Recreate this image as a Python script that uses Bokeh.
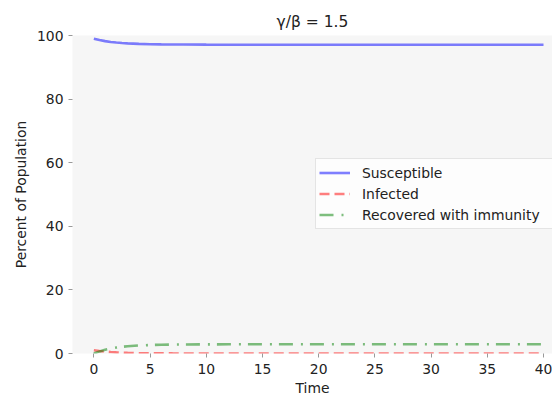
from bokeh.plotting import figure
from bokeh.models import Range1d, Legend, LegendItem, FixedTicker
from bokeh.embed import file_html
from bokeh.resources import INLINE

# Data (percent of population vs time)
time = [0, 0.5, 1, 1.5, 2, 2.5, 3, 4, 5, 6, 7, 8, 10, 12, 15, 20, 25, 30, 35, 40]
susceptible = [99.0, 98.57, 98.23, 97.98, 97.79, 97.64, 97.52, 97.36, 97.26, 97.20,
               97.17, 97.15, 97.12, 97.11, 97.10, 97.10, 97.10, 97.10, 97.10, 97.10]
infected = [1.00, 0.77, 0.60, 0.46, 0.35, 0.27, 0.21, 0.12, 0.07, 0.04,
            0.025, 0.015, 0.005, 0.002, 0.0, 0.0, 0.0, 0.0, 0.0, 0.0]
recovered = [0.0, 0.66, 1.17, 1.56, 1.86, 2.09, 2.27, 2.52, 2.67, 2.76,
             2.81, 2.84, 2.88, 2.89, 2.90, 2.90, 2.90, 2.90, 2.90, 2.90]
x_ticks = [0, 5, 10, 15, 20, 25, 30, 35, 40]
y_ticks = [0, 20, 40, 60, 80, 100]
title_text = "γ/β = 1.5"

FONT = "DejaVu Sans"

p = figure(width=552, height=398, output_backend="svg", toolbar_location=None,
           x_range=Range1d(-1.9, 40.8), y_range=Range1d(0, 100),
           min_border_left=72, min_border_right=0, min_border_top=35, min_border_bottom=44,
           title=title_text)
p.background_fill_color = "#f6f6f6"
p.border_fill_color = "white"
p.outline_line_color = None
p.xgrid.visible = False
p.ygrid.visible = False

p.title.align = "center"
p.title.offset = 5
p.title.text_font = FONT
p.title.text_font_size = "15.5px"
p.title.text_font_style = "normal"
p.title.text_color = "#222222"

for ax in (p.xaxis[0], p.yaxis[0]):
    ax.axis_line_color = None
    ax.major_tick_line_color = "#999999"
    ax.major_tick_out = 4
    ax.major_tick_in = 0
    ax.minor_tick_line_color = None
    ax.major_label_text_font = FONT
    ax.major_label_text_font_size = "13.9px"
    ax.major_label_text_color = "#222222"
    ax.axis_label_text_font = FONT
    ax.axis_label_text_font_size = "13.9px"
    ax.axis_label_text_font_style = "normal"
    ax.axis_label_text_color = "#222222"

p.xaxis.ticker = FixedTicker(ticks=x_ticks)
p.yaxis.ticker = FixedTicker(ticks=y_ticks)
p.xaxis.axis_label = "Time"
p.yaxis.axis_label = "Percent of Population"
p.xaxis.major_label_standoff = 6
p.yaxis.major_label_standoff = 5
p.xaxis.axis_label_standoff = 3
p.yaxis.axis_label_standoff = 5

r_s = p.line(time, susceptible, line_color="blue", line_alpha=0.5, line_width=2.6)
r_i = p.line(time, infected, line_color="red", line_alpha=0.5, line_width=2.6,
             line_dash="10 5")
r_r = p.line(time, recovered, line_color="#008000", line_alpha=0.5, line_width=2.6,
             line_dash="14 8 2 7")

legend = Legend(items=[LegendItem(label="Susceptible", renderers=[r_s]),
                       LegendItem(label="Infected", renderers=[r_i]),
                       LegendItem(label="Recovered with immunity", renderers=[r_r])],
                location=(243, 124))
legend.label_text_font = FONT
legend.label_text_font_size = "13.9px"
legend.label_text_color = "#222222"
legend.glyph_width = 31
legend.glyph_height = 21
legend.label_height = 21
legend.label_width = 230
legend.label_standoff = 12
legend.spacing = 0
legend.padding = 3
legend.margin = 0
legend.background_fill_color = "white"
legend.background_fill_alpha = 0.8
legend.border_line_color = "#cccccc"
legend.border_line_width = 1
p.add_layout(legend, "center")

open("out.html", "w").write(file_html(p, INLINE))
